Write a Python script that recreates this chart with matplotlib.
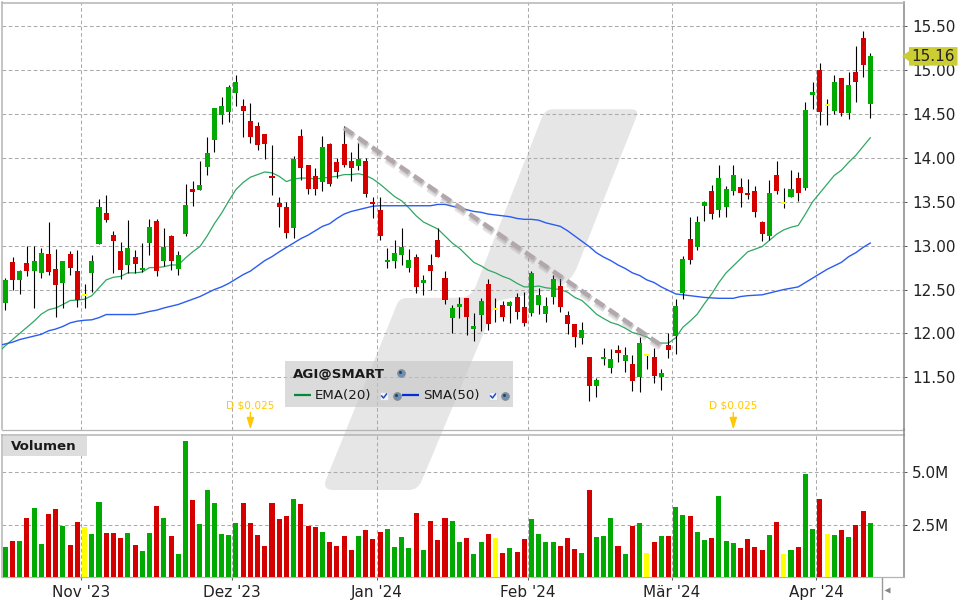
import numpy as np
import matplotlib
matplotlib.use('Agg')
import matplotlib.pyplot as plt
import matplotlib.patheffects as pe
from matplotlib.path import Path
from matplotlib.patches import PathPatch, Polygon, Rectangle

# g = up, r = down, y = unchanged (ten bars per chunk)
directions = ("grgrggrrgr" "ryggrrrgrg" "grgrggrggg" "gggrrrrrrr" "grrrgrrrrg" "rrrggggrgr"
              "rrggrggryr" "grrggggrrr" "grgggrgrgy" "rgrggrggrg" "ggrrrrgryg" "rggrygrgrr" "g")

body_top = [12.61, 12.81, 12.71, 12.80, 12.83, 12.92, 12.90, 12.73, 12.82, 12.90,
            12.71, 12.45, 12.82, 13.44, 13.37, 13.12, 12.94, 12.97, 12.87, 12.75,
            13.21, 13.28, 12.98, 13.11, 12.89, 13.46, 13.64, 13.69, 14.06, 14.57,
            14.59, 14.81, 14.86, 14.59, 14.42, 14.36, 14.27, 13.79, 13.49, 13.44,
            13.99, 14.25, 13.92, 13.79, 14.13, 14.16, 13.95, 14.16, 13.97, 13.99,
            13.97, 13.50, 13.41, 12.84, 12.92, 12.99, 12.84, 12.87, 12.61, 12.78,
            13.07, 12.63, 12.29, 12.33, 12.40, 12.09, 12.37, 12.56, 12.29, 12.32,
            12.36, 12.42, 12.30, 12.69, 12.44, 12.31, 12.62, 12.54, 12.21, 12.11,
            12.04, 11.73, 11.47, 11.73, 11.71, 11.81, 11.75, 11.65, 11.89, 11.77,
            11.73, 11.55, 11.87, 12.31, 12.85, 13.08, 13.27, 13.50, 13.62, 13.77,
            13.64, 13.81, 13.67, 13.60, 13.62, 13.27, 13.60, 13.81, 13.50, 13.64,
            13.77, 14.55, 14.75, 15.00, 14.62, 14.86, 14.91, 14.83, 14.98, 15.37,
            15.16]
body_bot = [12.35, 12.61, 12.61, 12.71, 12.71, 12.69, 12.70, 12.55, 12.58, 12.75,
            12.38, 12.45, 12.69, 13.02, 13.29, 13.05, 12.72, 12.78, 12.79, 12.73,
            13.03, 12.71, 12.82, 12.83, 12.73, 13.13, 13.62, 13.63, 13.90, 14.20,
            14.49, 14.52, 14.74, 14.53, 14.24, 14.15, 14.16, 13.77, 13.44, 13.14,
            13.20, 13.88, 13.64, 13.65, 13.72, 13.70, 13.84, 13.92, 13.88, 13.91,
            13.59, 13.47, 13.11, 12.82, 12.82, 12.89, 12.75, 12.53, 12.58, 12.71,
            12.87, 12.38, 12.17, 12.31, 12.19, 12.05, 12.21, 12.11, 12.29, 12.19,
            12.31, 12.24, 12.12, 12.23, 12.32, 12.22, 12.41, 12.30, 12.11, 11.96,
            11.95, 11.40, 11.40, 11.71, 11.61, 11.78, 11.69, 11.46, 11.50, 11.77,
            11.52, 11.50, 11.81, 11.97, 12.46, 12.84, 12.98, 13.45, 13.36, 13.41,
            13.44, 13.62, 13.60, 13.58, 13.38, 13.13, 13.11, 13.62, 13.50, 13.55,
            13.60, 13.66, 14.72, 14.52, 14.62, 14.54, 14.51, 14.51, 14.86, 15.06,
            14.61]
highs = [12.63, 12.87, 12.72, 13.00, 13.00, 12.97, 13.27, 12.96, 12.83, 12.94,
         12.95, 12.56, 12.89, 13.53, 13.58, 13.17, 13.04, 13.29, 12.95, 13.03,
         13.30, 13.30, 13.20, 13.12, 12.94, 13.70, 13.74, 13.97, 14.24, 14.57,
         14.69, 14.83, 14.95, 14.67, 14.63, 14.41, 14.27, 14.15, 13.55, 13.50,
         14.02, 14.33, 13.92, 13.88, 14.25, 14.17, 14.00, 14.36, 14.07, 14.17,
         14.00, 13.56, 13.56, 12.97, 13.06, 13.20, 12.96, 12.91, 12.67, 12.90,
         13.20, 12.71, 12.32, 12.42, 12.40, 12.23, 12.40, 12.62, 12.40, 12.37,
         12.37, 12.46, 12.47, 12.71, 12.52, 12.41, 12.66, 12.63, 12.25, 12.11,
         12.13, 11.73, 11.49, 11.83, 11.82, 11.87, 11.84, 11.75, 11.96, 11.77,
         11.83, 11.59, 12.01, 12.39, 12.88, 13.33, 13.34, 13.51, 13.69, 13.92,
         13.68, 13.92, 13.77, 13.76, 13.68, 13.28, 13.75, 13.96, 13.66, 13.86,
         13.84, 14.64, 14.86, 15.08, 14.67, 14.94, 14.91, 14.98, 15.27, 15.45,
         15.19]
lows = [12.27, 12.50, 12.45, 12.65, 12.29, 12.63, 12.67, 12.19, 12.29, 12.66,
        12.30, 12.29, 12.47, 13.02, 13.27, 12.69, 12.62, 12.69, 12.69, 12.70,
        12.89, 12.65, 12.77, 12.72, 12.67, 13.11, 13.45, 13.63, 13.81, 14.07,
        14.39, 14.41, 14.59, 14.24, 14.17, 14.09, 13.99, 13.58, 13.21, 13.09,
        13.09, 13.75, 13.59, 13.58, 13.62, 13.68, 13.77, 13.90, 13.74, 13.86,
        13.55, 13.31, 13.07, 12.74, 12.75, 12.78, 12.70, 12.46, 12.44, 12.49,
        12.87, 12.33, 12.00, 12.17, 11.98, 11.91, 12.03, 12.04, 12.13, 12.14,
        12.12, 12.16, 12.08, 12.20, 12.22, 12.13, 12.34, 12.24, 11.99, 11.84,
        11.88, 11.23, 11.27, 11.64, 11.55, 11.67, 11.56, 11.34, 11.33, 11.59,
        11.43, 11.36, 11.72, 11.76, 12.39, 12.79, 12.95, 13.28, 13.30, 13.33,
        13.33, 13.58, 13.44, 13.53, 13.33, 13.05, 13.06, 13.59, 13.43, 13.55,
        13.51, 13.63, 14.56, 14.37, 14.38, 14.50, 14.48, 14.44, 14.64, 14.92,
        14.46]
volumes = [1.43, 1.72, 1.72, 2.81, 3.29, 1.57, 3.00, 3.24, 2.43, 1.53,
           2.62, 2.38, 2.05, 3.58, 2.10, 2.10, 1.86, 2.10, 1.53, 1.24,
           2.10, 3.39, 2.81, 1.96, 1.10, 6.49, 3.67, 2.53, 4.15, 3.53,
           2.05, 2.00, 2.58, 3.53, 2.58, 2.00, 1.48, 3.53, 2.77, 2.91,
           3.72, 3.48, 2.43, 2.38, 2.15, 1.67, 1.48, 1.96, 1.29, 1.96,
           2.24, 1.81, 2.15, 2.29, 1.43, 1.91, 1.38, 3.05, 1.29, 2.67,
           1.76, 2.81, 2.67, 1.67, 1.86, 1.10, 1.67, 2.05, 1.86, 1.14,
           1.38, 1.19, 1.81, 2.77, 2.05, 1.67, 1.67, 1.48, 1.86, 1.34,
           1.14, 4.15, 1.91, 1.96, 2.81, 1.48, 1.10, 2.43, 2.58, 1.14,
           1.67, 1.96, 1.96, 3.34, 2.96, 2.91, 2.15, 1.76, 1.86, 3.86,
           1.72, 1.62, 1.38, 1.81, 1.43, 1.29, 2.00, 2.62, 1.10, 1.29,
           1.43, 4.91, 2.29, 3.72, 2.05, 2.00, 2.24, 1.91, 2.48, 3.15,
           2.58]
# the two averages start one bar before the first candle
ema20 = [11.78, 11.86, 11.93, 12.00, 12.07, 12.14, 12.22, 12.27, 12.29, 12.33,
         12.375, 12.38, 12.39, 12.43, 12.52, 12.61, 12.64, 12.65, 12.69, 12.69,
         12.70, 12.75, 12.75, 12.76, 12.78, 12.78, 12.86, 12.93, 12.99, 13.11,
         13.25, 13.37, 13.51, 13.64, 13.72, 13.78, 13.81, 13.84, 13.83, 13.79,
         13.73, 13.76, 13.77, 13.77, 13.76, 13.77, 13.78, 13.79, 13.81, 13.81,
         13.82, 13.80, 13.76, 13.70, 13.63, 13.56, 13.51, 13.43, 13.34, 13.27,
         13.23, 13.19, 13.11, 13.03, 12.97, 12.89, 12.81, 12.77, 12.72, 12.69,
         12.65, 12.62, 12.57, 12.53, 12.53, 12.54, 12.52, 12.51, 12.50, 12.47,
         12.41, 12.375, 12.30, 12.22, 12.17, 12.125, 12.10, 12.06, 12.01, 11.99,
         11.96, 11.91, 11.89, 11.89, 11.95, 12.07, 12.14, 12.22, 12.34, 12.45,
         12.58, 12.69, 12.77, 12.85, 12.93, 12.96, 12.99, 13.06, 13.13, 13.18,
         13.21, 13.23, 13.36, 13.50, 13.60, 13.70, 13.80, 13.86, 13.95, 14.03,
         14.13, 14.23]
sma50 = [11.86, 11.88, 11.90, 11.93, 11.95, 11.97, 11.99, 12.03, 12.05, 12.08,
         12.12, 12.14, 12.15, 12.155, 12.18, 12.215, 12.215, 12.215, 12.215, 12.215,
         12.23, 12.25, 12.265, 12.29, 12.31, 12.33, 12.36, 12.39, 12.42, 12.46,
         12.50, 12.53, 12.57, 12.62, 12.67, 12.71, 12.77, 12.83, 12.875, 12.93,
         12.98, 13.03, 13.08, 13.12, 13.17, 13.22, 13.25, 13.31, 13.36, 13.39,
         13.41, 13.43, 13.45, 13.455, 13.455, 13.455, 13.455, 13.455, 13.455, 13.455,
         13.455, 13.47, 13.47, 13.45, 13.43, 13.41, 13.39, 13.38, 13.36, 13.35,
         13.34, 13.33, 13.31, 13.30, 13.30, 13.29, 13.26, 13.24, 13.22, 13.17,
         13.11, 13.05, 12.99, 12.92, 12.87, 12.83, 12.78, 12.74, 12.69, 12.66,
         12.61, 12.58, 12.53, 12.49, 12.45, 12.44, 12.43, 12.42, 12.41, 12.405,
         12.40, 12.40, 12.40, 12.42, 12.43, 12.435, 12.44, 12.46, 12.48, 12.50,
         12.515, 12.53, 12.58, 12.63, 12.68, 12.73, 12.77, 12.81, 12.875, 12.92,
         12.98, 13.03]

month_pos = [10.45, 31.4, 51.5, 72.45, 92.45, 112.5]
month_labels = ["Nov '23", "Dez '23", "Jan '24", "Feb '24", "Mär '24", "Apr '24"]
price_ticks = [11.5, 12.0, 12.5, 13.0, 13.5, 14.0, 14.5, 15.0, 15.5]
volume_ticks = [2.5, 5.0]
volume_labels = ['2.5M', '5.0M']
dividend_bars = [34, 101]
dividend_text = 'D $0.025'
trend_x = [47, 90.9]
trend_y = [14.34, 11.87]
last_price = 15.16

GREEN = '#00aa00'
RED = '#d40000'
YELLOW = '#ffff00'
GRID = dict(color='#aaaaaa', lw=0.75, dashes=(3.5, 2.5))
colors = {'g': GREEN, 'r': RED, 'y': YELLOW}
bar_colors = [colors[d] for d in directions]

fig = plt.figure(figsize=(9.6, 6), dpi=100, facecolor='white')


def pixel_axes(zorder):
    a = fig.add_axes([0, 0, 1, 1], zorder=zorder)
    a.set_xlim(0, 960)
    a.set_ylim(600, 0)
    a.axis('off')
    return a


def panel(top, bottom):
    return fig.add_axes([2 / 960, 1 - bottom / 600, 902.3 / 960, (bottom - top) / 600],
                        zorder=2, facecolor='none')


# watermark slash behind both panels
bg = pixel_axes(0)
verts = [(552, 109.3), (631, 109.3), (639, 109.3), (636.7, 116), (576.7, 268), (568, 288), (545, 291),
         (497, 301), (422, 480), (418, 490), (409, 490), (333, 490), (323, 490), (325.5, 481),
         (396.7, 305), (399, 298), (407, 298), (460, 297.7), (473, 297), (477, 283), (541.7, 118),
         (545, 109.3), (552, 109.3)]
codes = [Path.MOVETO, Path.LINETO, Path.CURVE3, Path.CURVE3, Path.LINETO, Path.CURVE3, Path.CURVE3,
         Path.LINETO, Path.LINETO, Path.CURVE3, Path.CURVE3, Path.LINETO, Path.CURVE3, Path.CURVE3,
         Path.LINETO, Path.CURVE3, Path.CURVE3, Path.LINETO, Path.CURVE3, Path.CURVE3, Path.LINETO,
         Path.CURVE3, Path.CURVE3]
bg.add_patch(PathPatch(Path(verts, codes), fc='#e6e6e6', ec='none'))

ax = panel(2.5, 429.5)
vol = panel(434.5, 577)
xs = np.arange(len(body_top))
line_xs = np.arange(-1, len(body_top))
for a in (ax, vol):
    a.set_xlim(-0.458, 124.72)
    for x in month_pos:
        a.axvline(x, zorder=1, **GRID)
    for side in a.spines:
        a.spines[side].set_color('#b4b4b4')
        a.spines[side].set_linewidth(1.1)
    a.spines['right'].set_color('#888888')
    a.spines['bottom'].set_linewidth(0.9)
    a.yaxis.tick_right()
    a.tick_params(axis='y', length=2, width=0.7, color='#555555', pad=3.5, labelsize=11, labelcolor='#222222')

# price panel
ax.set_ylim(10.905, 15.771)
ax.set_yticks(price_ticks)
ax.set_yticklabels(['%.2f' % p for p in price_ticks])
ax.set_xticks([])
for p in price_ticks:
    ax.axhline(p, zorder=1, **GRID)
ax.plot(line_xs, ema20, color='#2fa862', lw=0.9, zorder=3)
ax.plot(line_xs, sma50, color='#2a5cf0', lw=1.0, zorder=3)
ax.vlines(xs, lows, highs, color='black', lw=0.8, zorder=4)
heights = np.maximum(np.array(body_top) - np.array(body_bot), 0.024)
ax.bar(xs, heights, bottom=np.array(body_top) - heights, width=0.7, color=bar_colors, zorder=5)
ax.plot(trend_x, trend_y, color='#b3a7ae', lw=3.2, dashes=(2.5, 1.3), zorder=6,
        path_effects=[pe.SimpleLineShadow(offset=(0.6, -2.0), shadow_color='#888888', alpha=0.22, linewidth=5.5),
                      pe.SimpleLineShadow(offset=(0.6, -1.5), shadow_color='#888888', alpha=0.25, linewidth=3.5),
                      pe.Normal()])
xt = ax.get_xaxis_transform()
for b in dividend_bars:
    ax.text(b, 0.056, dividend_text, transform=xt, color='#ffc800', fontsize=7.6, ha='center', va='center', zorder=7)
    ax.annotate('', xy=(b, 0.0), xytext=(b, 0.04), xycoords=xt, textcoords=xt, zorder=7,
                arrowprops=dict(arrowstyle='-|>,head_width=0.22,head_length=0.7', color='#ffc800', lw=1.0,
                                shrinkA=0, shrinkB=0))

# volume panel
vol.set_ylim(0, 6.805)
vol.set_yticks(volume_ticks)
vol.set_yticklabels(volume_labels)
for v in volume_ticks:
    vol.axhline(v, zorder=1, **GRID)
vol.bar(xs, volumes, width=0.7, color=bar_colors, zorder=3)
vol.set_xticks(month_pos)
vol.set_xticklabels(month_labels)
vol.tick_params(axis='x', length=2, width=0.7, color='#555555', pad=3.5, labelsize=11, labelcolor='#222222')

# overlays: legend box, volume label, last price tag
fg = pixel_axes(5)
fg.add_patch(Rectangle((285, 361), 228, 46, fc='#c6c6c6', ec='none', alpha=0.62))
fg.text(293, 374, 'AGI@SMART', fontsize=9.6, fontweight='bold', color='#1a1a1a', va='center')


def globe(x, y):
    fg.plot([x], [y], 'o', ms=5.6, mfc='#6f8fb0', mec='#8a8a8a', mew=0.6)
    fg.plot([x - 0.8], [y - 0.8], 'o', ms=2.2, mfc='#23466e', mec='none')


def checkbox(x, y):
    fg.plot([x], [y], 's', ms=5.6, mfc='#f4f4f8', mec='#d0d0d8', mew=0.5)
    fg.plot([x - 2.3, x - 0.5, x + 2.5], [y, y + 2, y - 2], color='#1a4fc0', lw=1.1)


globe(401, 373)
fg.plot([294, 311], [395, 395], color='#008a3c', lw=1.6, solid_capstyle='butt')
fg.text(315, 396, 'EMA(20)', fontsize=9.6, color='#1a1a1a', va='center')
checkbox(384, 396)
globe(397, 396)
fg.plot([402, 419], [395, 395], color='#0030d8', lw=1.6, solid_capstyle='butt')
fg.text(423, 396, 'SMA(50)', fontsize=9.6, color='#1a1a1a', va='center')
checkbox(493, 396)
globe(505, 396)

fg.add_patch(Rectangle((3, 436), 84, 20, fc='#dddddd', ec='none'))
fg.text(11, 446.5, 'Volumen', fontsize=9.6, fontweight='bold', color='#1a1a1a', va='center')

tag_y = 600 - ax.transData.transform((0, last_price))[1]
fg.add_patch(Polygon([(902, tag_y), (909, tag_y - 5), (909, tag_y - 9), (957.5, tag_y - 9), (957.5, tag_y + 9.5),
                      (909, tag_y + 9.5), (909, tag_y + 5)], closed=True, fc='#cccc33', ec='none'))
fg.text(911.5, tag_y + 0.5, '%.2f' % last_price, fontsize=11, color='#222222', va='center')

# right border between panels, scroll control under the axis
fg.plot([904.3, 904.3], [429, 435], color='#888888', lw=1.1)
fg.plot([881.5, 881.5], [578, 599], color='#999999', lw=1.0)
fg.plot([887], [590], '<', ms=4, color='#888888', mec='none')

fig.savefig('out.png', dpi=100)
